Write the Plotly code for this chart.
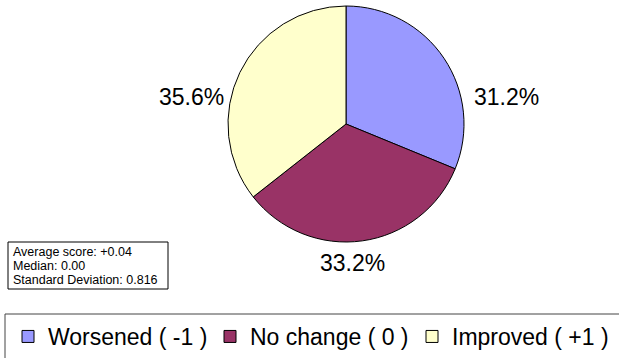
import plotly.graph_objects as go

# ---- data ----
categories = ["Worsened ( -1 )", "No change ( 0 )", "Improved ( +1 )"]
percentages = [31.2, 33.2, 35.6]
colors = ["#9999FF", "#993366", "#FFFFCC"]
average_score = "+0.04"
median_score = "0.00"
std_deviation = "0.816"

W, H = 619, 358
FONT = "Liberation Sans, Arial, Helvetica, sans-serif"


def px(x):
    return x / W


def py(y):
    return 1 - y / H


cx, cy, r = 346, 124, 118

fig = go.Figure(
    go.Pie(
        labels=categories,
        values=percentages,
        sort=False,
        direction="clockwise",
        rotation=0,
        marker=dict(colors=colors, line=dict(color="black", width=1)),
        textinfo="none",
        domain=dict(x=[px(cx - r), px(cx + r)], y=[py(cy + r), py(cy - r)]),
    )
)

# percentage labels (text from the data)
label_pos = [(506, 97), (352, 263), (191, 97)]
annotations = []
for v, (lx, ly) in zip(percentages, label_pos):
    annotations.append(
        dict(
            x=px(lx), y=py(ly), xref="paper", yref="paper",
            text=f"{v:.1f}%", showarrow=False,
            font=dict(family=FONT, size=23, color="black"),
            xanchor="center", yanchor="middle",
        )
    )

# statistics box
stats_lines = [
    f"Average score: {average_score}",
    f"Median: {median_score}",
    f"Standard Deviation: {std_deviation}",
]
for i, line in enumerate(stats_lines):
    annotations.append(
        dict(
            x=px(12), y=py(251.5 + 14 * i), xref="paper", yref="paper",
            text=line, showarrow=False,
            font=dict(family=FONT, size=12.5, color="black"),
            xanchor="left", yanchor="middle", borderpad=0,
        )
    )

shapes = [
    dict(type="rect", xref="paper", yref="paper",
         x0=px(8), x1=px(168), y0=py(289), y1=py(242),
         line=dict(color="black", width=1), fillcolor="white", layer="below"),
    dict(type="rect", xref="paper", yref="paper",
         x0=px(5), x1=px(660), y0=py(400), y1=py(314),
         line=dict(color="#444444", width=1), fillcolor="rgba(0,0,0,0)"),
]

fig.update_layout(
    width=W, height=H,
    margin=dict(l=0, r=0, t=0, b=0),
    paper_bgcolor="white",
    plot_bgcolor="white",
    showlegend=True,
    legend=dict(
        orientation="h",
        x=px(8), xanchor="left",
        y=py(358), yanchor="bottom",
        font=dict(family=FONT, size=23, color="black"),
        bgcolor="rgba(0,0,0,0)",
        borderwidth=0,
        entrywidth=157,
        entrywidthmode="pixels",
        traceorder="normal",
    ),
    annotations=annotations,
    shapes=shapes,
)

fig.write_html("out.html")
